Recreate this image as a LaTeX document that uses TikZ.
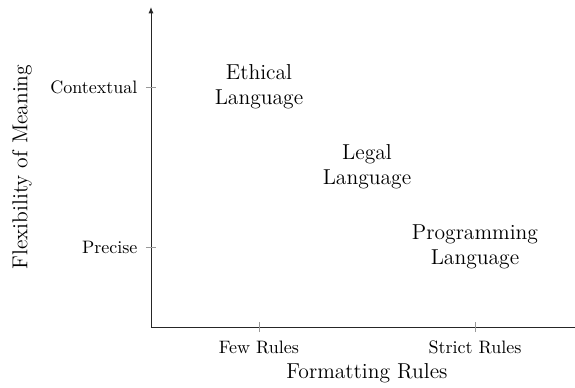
\documentclass[tikz,border=0pt]{standalone}
\usetikzlibrary{arrows.meta,positioning}

\begin{document}
\begin{tikzpicture}[x=2.109cm,y=1.5625cm]
    \tikzset{axisline/.style={draw=black!85,line width=0.5pt},
      tickline/.style={draw=black!40,line width=0.4pt},
      ticklabel/.style={font=\normalsize},
      axislabel/.style={font=\large},
      langlabel/.style={font=\large,align=center}}
    \useasboundingbox (-1.398,-0.75) rectangle (3.926,4.0875);
    % axes
    \coordinate (origin) at (0,0);
    \coordinate (ytop) at (0,4);
    \coordinate (xend) at (3.926,0);
    \draw[axisline,-{Latex[length=3.5pt,width=2.8pt]}] (origin) -- (ytop);
    \draw[axisline] (origin) -- (xend);
    % ticks
    \coordinate (few) at (1,0);
    \coordinate (strict) at (3,0);
    \coordinate (precise) at (0,1);
    \coordinate (context) at (0,3);
    \draw[tickline] ([yshift=-1mm]few) -- ([yshift=1mm]few);
    \draw[tickline] ([yshift=-1mm]strict) -- ([yshift=1mm]strict);
    \draw[tickline] ([xshift=-1mm]precise) -- ([xshift=1mm]precise);
    \draw[tickline] ([xshift=-1mm]context) -- ([xshift=1mm]context);
    \node[ticklabel,anchor=north] (fewlbl) at ([yshift=-1.4mm]few) {Few Rules};
    \node[ticklabel,anchor=north] (strictlbl) at ([yshift=-1.4mm]strict) {Strict Rules};
    \node[ticklabel,anchor=east] (preciselbl) at ([xshift=-1.4mm]precise) {Precise};
    \node[ticklabel,anchor=east] (contextlbl) at ([xshift=-1.4mm]context) {Contextual};
    \node[axislabel] (xlabel) at (2,-0.575) {Formatting Rules};
    \node[axislabel,rotate=90] (ylabel) at (-1.194,2) {Flexibility of Meaning};
    % languages
    \node[langlabel] (ethical) at (1,3) {Ethical\\Language};
    \node[langlabel] (legal) at (2,2) {Legal\\Language};
    \node[langlabel] (programming) at (3,1) {Programming\\Language};
\end{tikzpicture}
\end{document}
